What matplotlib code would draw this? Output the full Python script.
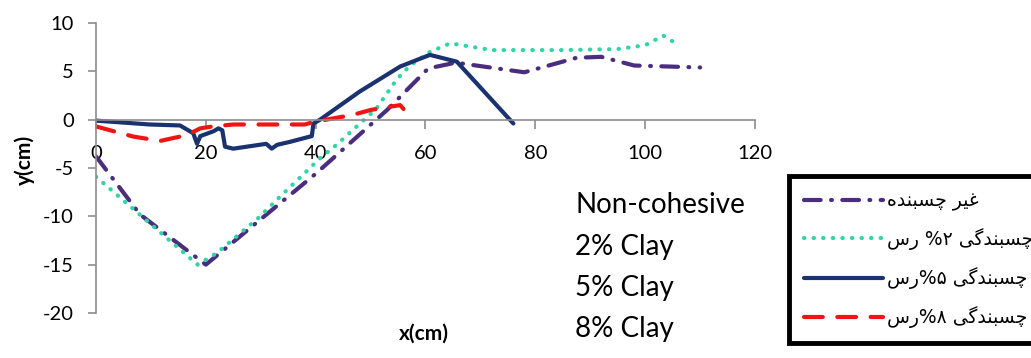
import matplotlib
matplotlib.use("Agg")
import matplotlib.pyplot as plt
from matplotlib.lines import Line2D

plt.rcParams['font.family'] = ['Lato', 'DejaVu Sans']
plt.rcParams['axes.unicode_minus'] = False

## data ##
x_non = [0, 8, 20, 40, 53, 60.5, 65.5, 78, 87.5, 92, 98, 110]
y_non = [-3.8, -9.8, -15, -5.6, 1.0, 5.3, 5.9, 4.9, 6.4, 6.5, 5.6, 5.4]

x_c2 = [0, 18.5, 22, 29.5, 34, 40.8, 43.8, 51, 54.8, 57.2, 60.8, 64.5, 72, 85, 95, 100, 103.3, 105]
y_c2 = [-5.9, -15, -13.8, -10.2, -7.7, -4.0, -2.6, 1.1, 4.2, 5.6, 7.0, 7.9, 7.2, 7.2, 7.3, 7.7, 8.7, 8.1]

x_c5 = [0, 9.8, 15.3, 17.7, 18.4, 19, 21.4, 22.3, 23, 23.5, 25, 31, 32, 33, 35.3, 39.3, 39.6, 40.8, 48, 55.4, 60.8, 65.7, 76]
y_c5 = [-0.1, -0.5, -0.6, -1.4, -2.5, -1.7, -1.2, -0.9, -1.1, -2.8, -3.0, -2.5, -3.0, -2.6, -2.3, -1.7, -0.4, 0.0, 2.9, 5.5, 6.7, 6.0, -0.4]

x_c8 = [0, 6.8, 11.7, 16.5, 19, 21.3, 25, 38, 40, 46.8, 50, 53, 55.4, 56]
y_c8 = [-0.7, -1.75, -2.2, -1.6, -0.9, -0.7, -0.5, -0.5, -0.2, 0.5, 1.0, 1.3, 1.5, 1.1]

xticks = [0, 20, 40, 60, 80, 100, 120]
yticks = [-20, -15, -10, -5, 0, 5, 10]

side_labels = ["Non-cohesive", "2% Clay", "5% Clay", "8% Clay"]

# persian legend text, written in visual order with presentation forms
# (matplotlib has no RTL shaping)
chasbandeh = "\uFEE9\uFEAA\uFEE8\uFE92\uFEB4\uFB7C"
gheyr = "\uFEAE\uFEF4\uFECF"
chasbandegi = "\uFBFD\uFB94\uFEAA\uFEE8\uFE92\uFEB4\uFB7C"
ras = "\uFEB1\uFEAD"
leg_labels = [chasbandeh + " " + gheyr,
              ras + " %\u06F2 " + chasbandegi,
              ras + "%\u06F5 " + chasbandegi,
              ras + "%\u06F8 " + chasbandegi]

c_non = '#4B2D7F'
c_c2 = '#2ED6A6'
c_c5 = '#1B3271'
c_c8 = '#F01414'
grey = '#8C8C8C'

ls_non = (0, (4, 2.5, 0.2, 2.5))
ls_c2 = (0, (0.1, 2.2))
ls_c8 = (0, (4.5, 3.5))

fig = plt.figure(figsize=(10.31, 3.58), dpi=100)
ax = fig.add_axes([0.0931, 0.1257, 0.6392, 0.8101])

ax.plot(x_non, y_non, color=c_non, lw=3, linestyle=ls_non, dash_capstyle='round')
ax.plot(x_c2, y_c2, color=c_c2, lw=3, linestyle=ls_c2, dash_capstyle='round')
ax.plot(x_c5, y_c5, color=c_c5, lw=3, solid_capstyle='round')
ax.plot(x_c8, y_c8, color=c_c8, lw=3, linestyle=ls_c8, dash_capstyle='round')

ax.set_xlim(0, 120)
ax.set_ylim(-20, 10)
ax.set_xticks(xticks)
ax.set_yticks(yticks)
ax.spines['top'].set_visible(False)
ax.spines['right'].set_visible(False)
ax.spines['bottom'].set_position(('data', 0))
for s in ['left', 'bottom']:
    ax.spines[s].set_color(grey)
    ax.spines[s].set_linewidth(1.2)
ax.tick_params(axis='x', direction='out', length=6.5, width=1.2, color=grey,
               labelsize=14.5, pad=12)
ax.tick_params(axis='y', direction='out', length=6, width=1.2, color=grey,
               labelsize=14.5, pad=10)

fig.text(25 / 1031, 1 - 160 / 358, "y(cm)", rotation=90, fontsize=15,
         fontweight='bold', ha='center', va='center')
fig.text(424 / 1031, 1 - 334 / 358, "x(cm)", fontsize=15,
         fontweight='bold', ha='center', va='center')

for i, t in enumerate(side_labels):
    fig.text(575 / 1031, 1 - (213 + 41.5 * i) / 358, t, fontsize=20,
             ha='left', va='baseline')

handles = [Line2D([], [], color=c_non, lw=3, linestyle=ls_non, dash_capstyle='round'),
           Line2D([], [], color=c_c2, lw=3, linestyle=ls_c2, dash_capstyle='round'),
           Line2D([], [], color=c_c5, lw=3, solid_capstyle='round'),
           Line2D([], [], color=c_c8, lw=3, linestyle=ls_c8, dash_capstyle='round')]
leg = fig.legend(handles, leg_labels, loc='upper left', bbox_to_anchor=(0.7655, 0.508),
                 prop={'family': 'DejaVu Sans', 'size': 13.5}, handlelength=4.2,
                 handletextpad=0.2, labelspacing=0.92, borderpad=0.8,
                 borderaxespad=0, fancybox=False, framealpha=1)
leg.get_frame().set_edgecolor('black')
leg.get_frame().set_linewidth(3.5)

fig.savefig("out.png", dpi=100)
